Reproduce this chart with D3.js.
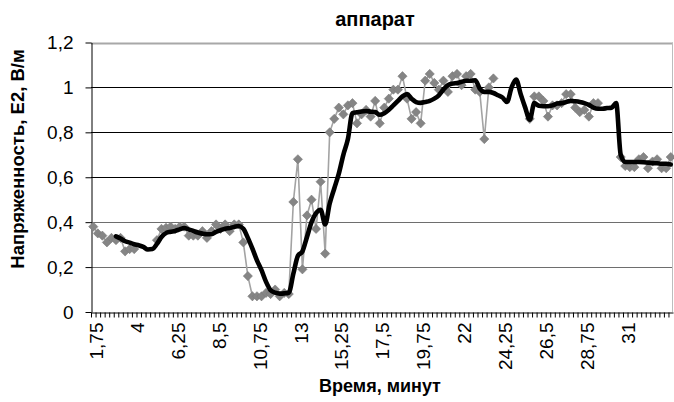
<!DOCTYPE html>
<html lang="ru">
  <head>
    <meta charset="utf-8">
    <title>аппарат</title>
    <script src="https://d3js.org/d3.v7.min.js"></script>
    <style>
      body { margin: 0; background: #fff; }
      svg text { font-family: "Liberation Sans", Arial, sans-serif; fill: #000; }
    </style>
  </head>
  <body>
    <script type="text/javascript">

      // data: time (minutes), raw readings (gray) and smoothed curve (black)
      const minutes = [
        1.75,2,2.25,2.5,2.75,3,3.25,3.5,3.75,4,
        4.25,4.5,4.75,5,5.25,5.5,5.75,6,6.25,6.5,
        6.75,7,7.25,7.5,7.75,8,8.25,8.5,8.75,9,
        9.25,9.5,9.75,10,10.25,10.5,10.75,11,11.25,11.5,
        11.75,12,12.25,12.5,12.75,13,13.25,13.5,13.75,14,
        14.25,14.5,14.75,15,15.25,15.5,15.75,16,16.25,16.5,
        16.75,17,17.25,17.5,17.75,18,18.25,18.5,18.75,19,
        19.25,19.5,19.75,20,20.25,20.5,20.75,21,21.25,21.5,
        21.75,22,22.25,22.5,22.75,23,23.25,23.5,23.75,24,
        24.25,24.5,24.75,25,25.25,25.5,25.75,26,26.25,26.5,
        26.75,27,27.25,27.5,27.75,28,28.25,28.5,28.75,29,
        29.25,29.5,29.75,30,30.25,30.5,30.75,31,31.25,31.5,
        31.75,32,32.25,32.5,32.75,33,33.25,33.5
      ];

      const rawValues = [
        0.38,0.35,0.34,0.31,0.33,0.32,0.33,0.27,0.28,0.28,
        null,null,null,null,0.32,0.37,0.375,0.38,0.37,0.38,
        0.38,0.34,0.34,0.34,0.36,0.33,0.36,0.39,0.37,0.39,
        0.36,0.39,0.39,0.31,0.16,0.07,0.07,0.07,0.085,0.08,
        0.10,0.07,0.085,0.08,0.49,0.68,0.19,0.43,0.50,0.37,
        0.58,0.26,0.80,0.86,0.91,0.88,0.92,0.93,0.84,0.88,
        0.90,0.87,0.94,0.84,0.91,0.95,0.99,0.99,1.05,0.95,
        0.86,0.89,0.84,1.03,1.06,1.02,0.99,1.03,0.98,1.05,
        1.06,1.01,1.05,1.06,0.99,0.98,0.77,1.00,1.04,null,
        null,null,null,null,null,null,0.86,0.96,0.96,0.94,
        0.87,0.92,0.92,0.93,0.97,0.97,0.91,0.89,0.90,0.87,
        0.93,0.93,null,null,null,null,0.69,0.65,0.645,0.645,
        0.68,0.69,0.64,0.67,0.68,0.64,0.64,0.69
      ];

      const smoothValues = [
        null,null,null,null,null,0.337,0.327,0.315,0.309,0.302,
        0.297,0.29,0.278,0.28,0.303,0.334,0.352,0.357,0.361,0.368,
        0.374,0.368,0.361,0.354,0.349,0.346,0.346,0.357,0.364,0.371,
        0.374,0.379,0.383,0.371,0.33,0.282,0.23,0.186,0.134,0.097,
        0.086,0.082,0.083,0.086,0.17,0.25,0.27,0.334,0.40,0.44,
        0.455,0.39,0.483,0.55,0.616,0.70,0.77,0.885,0.889,0.893,
        0.895,0.892,0.89,0.878,0.885,0.90,0.92,0.94,0.96,0.97,
        0.95,0.935,0.931,0.935,0.94,0.95,0.965,0.99,1.01,1.017,
        1.02,1.025,1.03,1.03,1.032,0.995,0.98,0.98,0.975,0.965,
        0.955,0.935,1.0,1.035,0.97,0.91,0.856,0.93,0.918,0.916,
        0.916,0.92,0.928,0.93,0.935,0.94,0.938,0.935,0.93,0.922,
        0.91,0.905,0.905,0.908,0.91,0.93,0.70,0.668,0.668,0.668,
        0.668,0.667,0.665,0.663,0.662,0.66,0.66,0.657
      ];

      const tickLabels = ["1,75","4","6,25","8,5","10,75","13","15,25","17,5","19,75","22","24,25","26,5","28,75","31"];
      const tickMinutes = [1.75,4,6.25,8.5,10.75,13,15.25,17.5,19.75,22,24.25,26.5,28.75,31];
      const yTicks = [0,0.2,0.4,0.6,0.8,1,1.2];

      // layout
      const w = 674;
      const h = 402;
      const plot = {left: 91, right: 673, top: 42.5, bottom: 312};

      const svg = d3.select("body")
        .append("svg")
        .attr("width", w)
        .attr("height", h);

      const xScale = d3.scaleBand()
        .domain(minutes)
        .range([plot.left, plot.right])
        .paddingInner(0)
        .paddingOuter(0);
      const bw = xScale.bandwidth();
      const cx = m => xScale(m) + bw / 2;

      const yScale = d3.scaleLinear()
        .domain([0, 1.2])
        .range([plot.bottom, plot.top]);

      const fmt = v => String(v).replace(".", ",");

      // gridlines (lower ones look grayer in the original)
      svg.append("g")
        .selectAll("line")
        .data(yTicks.filter(v => v > 0))
        .enter()
        .append("line")
        .attr("x1", plot.left)
        .attr("x2", plot.right)
        .attr("y1", d => Math.round(yScale(d)) + 0.5)
        .attr("y2", d => Math.round(yScale(d)) + 0.5)
        .attr("stroke", d => d >= 1.2 ? "#a8a8a8" : (d >= 0.6 ? "#000" : "#6e6e6e"))
        .attr("stroke-width", d => d >= 1.2 ? 2 : 1);

      // plot area right border
      svg.append("line")
        .attr("x1", plot.right - 0.5).attr("x2", plot.right - 0.5)
        .attr("y1", plot.top).attr("y2", plot.bottom)
        .attr("stroke", "#bdbdbd");

      // y axis
      const yAxis = d3.axisLeft(yScale)
        .tickValues(yTicks)
        .tickSize(6)
        .tickSizeOuter(0)
        .tickPadding(12)
        .tickFormat(fmt);

      const gy = svg.append("g")
        .attr("transform", `translate(${plot.left + 0.5}, 0)`)
        .call(yAxis);
      gy.select(".domain").attr("stroke", "#000");
      gy.selectAll(".tick line").attr("stroke", "#000");
      gy.selectAll(".tick text")
        .style("font-size", "19px")
        .attr("fill", "#000");

      // x axis: a tick mark between every category, label every 9th
      const xAxis = d3.axisBottom(xScale)
        .tickSize(5)
        .tickSizeOuter(0)
        .tickFormat(m => {
          const k = tickMinutes.indexOf(m);
          return k >= 0 ? tickLabels[k] : "";
        });

      const gx = svg.append("g")
        .attr("transform", `translate(0, ${plot.bottom + 0.5})`)
        .call(xAxis);
      gx.select(".domain").attr("stroke", "#000");
      gx.selectAll(".tick line")
        .attr("stroke", "#000")
        .attr("x1", -bw / 2 + 0.5)
        .attr("x2", -bw / 2 + 0.5);
      gx.selectAll(".tick text")
        .style("font-size", "19px")
        .attr("fill", "#000")
        .attr("text-anchor", "end")
        .attr("transform", "rotate(-90)")
        .attr("x", -10)
        .attr("y", 3)
        .attr("dy", "0.35em");

      // raw series: thin gray line with diamond markers
      const rawData = minutes.map((m, i) => ({m: m, v: rawValues[i]}));

      svg.append("path")
        .datum(rawData)
        .attr("fill", "none")
        .attr("stroke", "#a3a3a3")
        .attr("stroke-width", 1.6)
        .attr("d", d3.line()
          .defined(d => d.v !== null)
          .x(d => cx(d.m))
          .y(d => yScale(d.v)));

      svg.append("g")
        .selectAll("path")
        .data(rawData.filter(d => d.v !== null))
        .enter()
        .append("path")
        .attr("d", "M0,-4.6L4.6,0L0,4.6L-4.6,0Z")
        .attr("transform", d => `translate(${cx(d.m)}, ${yScale(d.v)})`)
        .attr("fill", "#858585")
        .attr("stroke", "#7a7a7a")
        .attr("stroke-width", 0.6);

      // smoothed series: thick black line
      const smoothData = minutes.map((m, i) => ({m: m, v: smoothValues[i]}));

      svg.append("path")
        .datum(smoothData)
        .attr("fill", "none")
        .attr("stroke", "#000")
        .attr("stroke-width", 4.6)
        .attr("stroke-linejoin", "round")
        .attr("stroke-linecap", "round")
        .attr("d", d3.line()
          .defined(d => d.v !== null)
          .curve(d3.curveMonotoneX)
          .x(d => cx(d.m))
          .y(d => yScale(d.v)));

      // titles
      svg.append("text")
        .attr("x", 375)
        .attr("y", 26)
        .attr("text-anchor", "middle")
        .style("font-size", "20px")
        .style("font-weight", "bold")
        .text("аппарат");

      svg.append("text")
        .attr("x", 380)
        .attr("y", 392)
        .attr("text-anchor", "middle")
        .style("font-size", "18px")
        .style("font-weight", "bold")
        .text("Время, минут");

      svg.append("text")
        .attr("transform", "translate(24, 159) rotate(-90)")
        .attr("text-anchor", "middle")
        .style("font-size", "18.5px")
        .style("font-weight", "bold")
        .text("Напряженность, E2, В/м");

    </script>
  </body>
</html>
